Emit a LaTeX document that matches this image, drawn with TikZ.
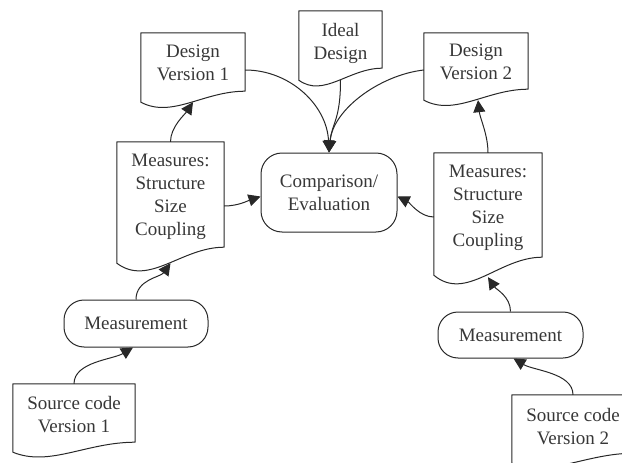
\documentclass[tikz,border=0pt]{standalone}
\usepackage{fontspec}
\setmainfont{Liberation Serif}
\usetikzlibrary{calc,arrows.meta}

\definecolor{inkcol}{RGB}{40,40,40}
\definecolor{textcol}{RGB}{55,55,55}

\tikzset{
  ink/.style={draw=inkcol, line width=1pt, line join=round},
  labelfont/.style={text=textcol, font=\fontsize{19}{23}\selectfont},
  % text height spans all lines down to the last baseline
  docbox/.style={labelfont, inner sep=0pt, align=center, text height=#1},
  docbox/.default=36pt,
  procbox/.style={labelfont, ink, rounded corners=#1, inner sep=0pt, align=center},
  procbox/.default=20pt,
  conn/.style={ink, -{Triangle[length=12pt,width=12pt]}},
}

% outline of a document symbol: flat top, wavy bottom that rises by #2 to the right
\newcommand\docoutline[2]{%
  \draw[ink] ($(#1.south east)+(0,-#2)$) -- (#1.north east) -- (#1.north west) -- (#1.south west)
    .. controls ($(#1.south west)!0.3!(#1.south east)+(0,1.5*#2)$)
       and ($(#1.south west)!0.6!(#1.south east)+(0,-#2)$)
    .. ($(#1.south east)+(0,-#2)$) -- cycle;}

\begin{document}
\begin{tikzpicture}[x=1pt, y=-1pt]
  \useasboundingbox (0,0) rectangle (622,463);
  \clip (0,0) rectangle (622,463);

  % documents
  \node[docbox, minimum width=104pt, minimum height=69pt, text depth=10pt] (dv1) at (193,67.5) {Design\\Version 1};
  \node[docbox, minimum width=83pt, minimum height=69pt, text depth=9pt] (ideal) at (340.5,45.5) {Ideal\\Design};
  \node[docbox, minimum width=104pt, minimum height=67pt, text depth=10pt] (dv2) at (476,66.5) {Design\\Version 2};
  \node[docbox=82pt, minimum width=107pt, minimum height=121pt, text depth=16pt] (mq1) at (170.5,202.5) {Measures:\\Structure\\Size\\Coupling};
  \node[docbox=82pt, minimum width=108pt, minimum height=122pt, text depth=17pt] (mq2) at (488,214) {Measures:\\Structure\\Size\\Coupling};
  \node[docbox, minimum width=122pt, minimum height=68pt, text depth=7pt] (src1) at (74,418) {Source code\\Version 1};
  \node[docbox, minimum width=122pt, minimum height=68pt, text depth=5pt] (src2) at (573,429) {Source code\\Version 2};

  \docoutline{dv1}{11}
  \docoutline{ideal}{12}
  \docoutline{dv2}{11}
  \docoutline{mq1}{16}
  \docoutline{mq2}{18}
  \docoutline{src1}{10}
  \docoutline{src2}{10}

  % processes
  \node[procbox=21pt, minimum width=136pt, minimum height=79pt] (cmp) at (329,192.5) {Comparison/\\Evaluation};
  \node[procbox, minimum width=144pt, minimum height=47pt] (msr1) at (136,323.5) {Measurement};
  \node[procbox, minimum width=145pt, minimum height=46pt] (msr2) at (510.5,335) {Measurement};

  % left chain
  \draw[conn] (src1.north) .. controls +(0,-22) and +(-20,12) .. ([xshift=-3pt]msr1.south);
  \draw[conn] (msr1.north) .. controls +(0,-20) and +(-10,14) .. (mq1.south);
  \draw[conn] (mq1.north) .. controls +(0,-15) and +(-8,12) .. (dv1.south);
  \draw[conn] ([yshift=-3.5pt]mq1.east) .. controls +(14,0) and +(-12,4) .. ([yshift=-4pt]cmp.west);

  % right chain
  \draw[conn] (src2.north) .. controls +(0,-22) and +(20,12) .. ([xshift=3pt]msr2.south);
  \draw[conn] (msr2.north) .. controls +(0,-15) and +(8,12) .. ([yshift=-2pt]mq2.south);
  \draw[conn] (mq2.north) .. controls +(0,-18) and +(2,18) .. ([xshift=2pt]dv2.south);
  \draw[conn] ([yshift=-3pt]mq2.west) .. controls +(-14,0) and +(12,6) .. ([yshift=-4pt]cmp.east);

  % designs into the comparison
  \draw[conn] ([yshift=-2.5pt]dv1.east) .. controls +(45,0) and +(-2,-47) .. (cmp.north);
  \draw[conn] (ideal.south) .. controls +(0,40) and +(3,-30) .. (cmp.north);
  \draw[conn] ([yshift=-3.5pt]dv2.west) .. controls +(-44,5) and +(4,-43) .. (cmp.north);
\end{tikzpicture}
\end{document}
